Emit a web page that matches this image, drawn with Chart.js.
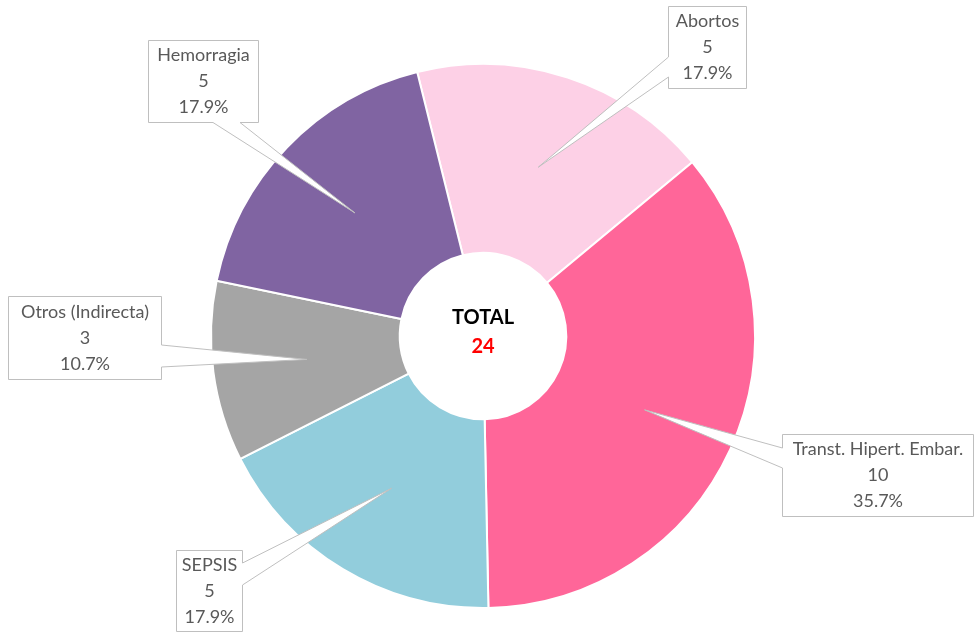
<!DOCTYPE html>
<html>
<head>
<meta charset="utf-8">
<script src="https://cdn.jsdelivr.net/npm/chart.js@4.4.1/dist/chart.umd.min.js"></script>
<style>
  html, body { margin: 0; padding: 0; background: #fff; }
  #wrap { width: 974px; height: 636px; position: relative; }
</style>
</head>
<body>
<div id="wrap"><canvas id="chart"></canvas></div>
<script>
// Chart data
const categories = ['Abortos', 'Transt. Hipert. Embar.', 'SEPSIS', 'Otros (Indirecta)', 'Hemorragia'];
const counts = [5, 10, 5, 3, 5];
const percents = ['17.9%', '35.7%', '17.9%', '10.7%', '17.9%'];
const colors = ['#FDD0E6', '#FF6699', '#92CDDC', '#A5A5A5', '#8064A2'];
const totalLabel = 'TOTAL';
const totalValue = '24';

// Callout boxes (placed by hand, like in the original sheet)
// side = edge the pointer leaves from, b1/b2 = pointer base along that edge
const boxes = [
  { x: 668.5, y: 6.5, w: 78, h: 82, side: 'left', b1: 57, b2: 77 },
  { x: 782.5, y: 434.5, w: 191, h: 82, side: 'left', b1: 448, b2: 468 },
  { x: 176.5, y: 550.5, w: 66, h: 81, side: 'right', b1: 563, b2: 585 },
  { x: 8.5, y: 296.5, w: 153, h: 83, side: 'right', b1: 345, b2: 367 },
  { x: 148.5, y: 40.5, w: 110, h: 82, side: 'bottom', b1: 213, b2: 240 },
];

const FONT = 'Lato, "Open Sans", sans-serif';

const calloutPlugin = {
  id: 'callouts',
  afterDatasetsDraw(chart) {
    const ctx = chart.ctx;
    const meta = chart.getDatasetMeta(0);
    ctx.save();

    // centre text
    const c = meta.data[0];
    ctx.textAlign = 'center';
    ctx.textBaseline = 'middle';
    ctx.font = 'bold 20px ' + FONT;
    ctx.fillStyle = '#000';
    ctx.fillText(totalLabel, c.x, c.y - 18);
    ctx.fillStyle = '#FF0000';
    ctx.fillText(totalValue, c.x, c.y + 11);

    meta.data.forEach((arc, i) => {
      const b = boxes[i];
      const tip = arc.tooltipPosition();
      const x0 = b.x, y0 = b.y, x1 = b.x + b.w, y1 = b.y + b.h;
      ctx.beginPath();
      ctx.moveTo(x0, y0);
      ctx.lineTo(x1, y0);
      if (b.side === 'right') {
        ctx.lineTo(x1, b.b1);
        ctx.lineTo(tip.x, tip.y);
        ctx.lineTo(x1, b.b2);
      }
      ctx.lineTo(x1, y1);
      if (b.side === 'bottom') {
        ctx.lineTo(b.b2, y1);
        ctx.lineTo(tip.x, tip.y);
        ctx.lineTo(b.b1, y1);
      }
      ctx.lineTo(x0, y1);
      if (b.side === 'left') {
        ctx.lineTo(x0, b.b2);
        ctx.lineTo(tip.x, tip.y);
        ctx.lineTo(x0, b.b1);
      }
      ctx.closePath();
      ctx.fillStyle = '#fff';
      ctx.fill();
      ctx.strokeStyle = '#BFBFBF';
      ctx.lineWidth = 1;
      ctx.stroke();

      // label text
      ctx.fillStyle = '#595959';
      ctx.font = '18px ' + FONT;
      const cx = b.x + b.w / 2;
      const top = b.y + b.h / 2 - 26;
      ctx.fillText(categories[i], cx, top);
      ctx.fillText(String(counts[i]), cx, top + 26);
      ctx.fillText(percents[i], cx, top + 52);
    });
    ctx.restore();
  }
};

const draw = () => {
  new Chart(document.getElementById('chart'), {
    type: 'doughnut',
    data: {
      labels: categories,
      datasets: [{
        data: counts,
        backgroundColor: colors,
        borderColor: '#fff',
        borderWidth: 2,
      }]
    },
    options: {
      responsive: true,
      maintainAspectRatio: false,
      animation: false,
      rotation: -14,
      radius: 272,
      cutout: 83,
      layout: { padding: { left: 211, right: 219, top: 64, bottom: 28 } },
      events: [],
      plugins: {
        legend: { display: false },
        tooltip: { enabled: false },
      }
    },
    plugins: [calloutPlugin]
  });
};

document.fonts.load('18px Lato').then(() => document.fonts.load('bold 20px Lato')).then(draw, draw);
</script>
</body>
</html>
